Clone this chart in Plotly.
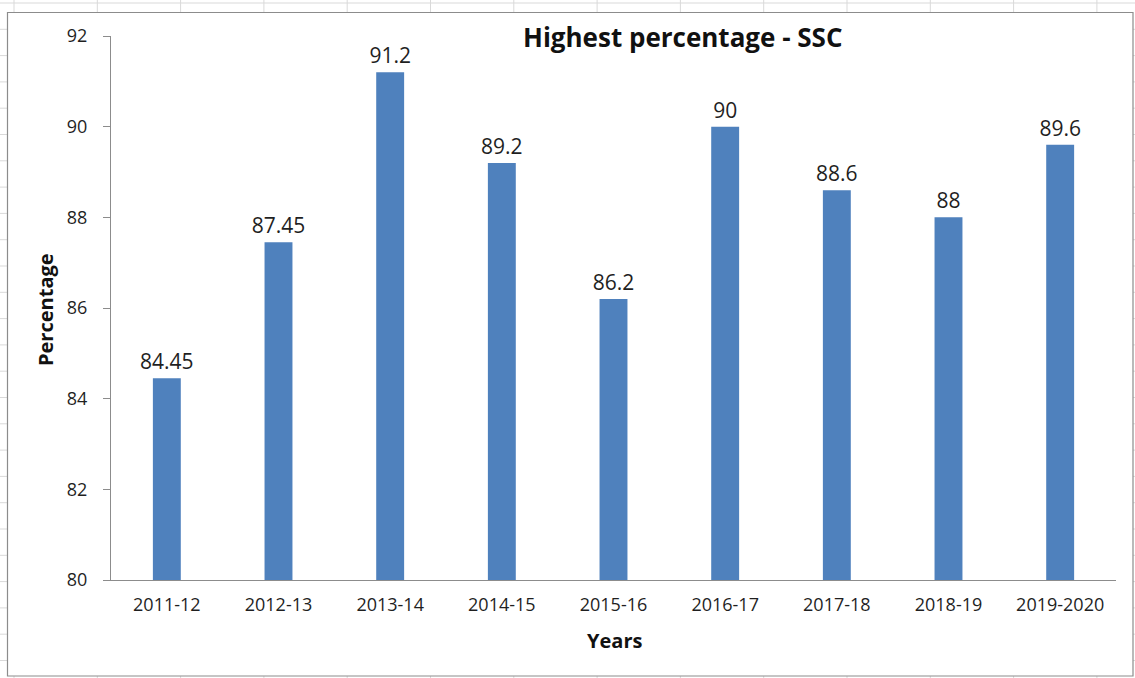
import plotly.graph_objects as go

years = ["2011-12", "2012-13", "2013-14", "2014-15", "2015-16",
         "2016-17", "2017-18", "2018-19", "2019-2020"]
highest = [84.45, 87.45, 91.2, 89.2, 86.2, 90, 88.6, 88, 89.6]
labels = ["84.45", "87.45", "91.2", "89.2", "86.2", "90", "88.6", "88", "89.6"]
y_ticks = [80, 82, 84, 86, 88, 90, 92]

W, H = 1135, 678
ML, MR, MT, MB = 111, 19, 36, 98
PW, PH = W - ML - MR, H - MT - MB


def px(x):
    return (x - ML) / PW


def py(y):
    return (H - MB - y) / PH


FONT = "Open Sans"
BAR = "#4f81bd"
TXT = "#1f1f1f"

fig = go.Figure(go.Bar(
    x=years, y=highest, text=labels, textposition="outside",
    constraintext="none",
    textfont=dict(family=FONT, size=21, color=TXT),
    marker=dict(color=BAR, line=dict(width=0)),
    cliponaxis=False, hoverinfo="x+y",
))

shapes = []
grid = "#d9d9d9"
# spreadsheet grid behind the chart
for i in range(14):
    xv = 14 + 83.3 * i
    shapes.append(dict(type="line", xref="paper", yref="paper",
                       x0=px(xv), x1=px(xv), y0=py(0), y1=py(H),
                       line=dict(color=grid, width=1), layer="below"))
for i in range(27):
    yv = 3 + 26.3 * i
    shapes.append(dict(type="line", xref="paper", yref="paper",
                       x0=px(0), x1=px(W), y0=py(yv), y1=py(yv),
                       line=dict(color=grid, width=1), layer="below"))
# chart frame
shapes.append(dict(type="rect", xref="paper", yref="paper",
                   x0=px(7.5), x1=px(1133), y0=py(12.5), y1=py(676),
                   fillcolor="white", line=dict(color="#8c8c8c", width=1.2),
                   layer="below"))

annotations = [
    dict(text="<b>Highest percentage - SSC</b>", x=px(683), y=py(37),
         xref="paper", yref="paper", showarrow=False,
         font=dict(family=FONT, size=26, color="#111111"),
         xanchor="center", yanchor="middle"),
    dict(text="<b>Percentage</b>", x=px(45), y=py(310),
         xref="paper", yref="paper", showarrow=False, textangle=-90,
         font=dict(family=FONT, size=20, color="#111111"),
         xanchor="center", yanchor="middle"),
    dict(text="<b>Years</b>", x=px(614), y=py(640),
         xref="paper", yref="paper", showarrow=False,
         font=dict(family=FONT, size=20, color="#111111"),
         xanchor="center", yanchor="middle"),
]

fig.update_layout(
    width=W, height=H,
    margin=dict(l=ML, r=MR, t=MT, b=MB, pad=0),
    paper_bgcolor="white", plot_bgcolor="rgba(0,0,0,0)",
    bargap=0.75, showlegend=False,
    shapes=shapes, annotations=annotations,
    font=dict(family=FONT, color=TXT),
)
fig.update_xaxes(
    type="category", showgrid=False, showline=True, linecolor="#8c8c8c",
    linewidth=1.2, ticks="", tickfont=dict(family=FONT, size=18, color=TXT),
    ticklabelstandoff=8, zeroline=False,
)
fig.update_yaxes(
    range=[80, 92], tickvals=y_ticks, showgrid=False, showline=True,
    linecolor="#8c8c8c", linewidth=1.2, ticks="outside", ticklen=7,
    tickcolor="#8c8c8c", tickfont=dict(family=FONT, size=18, color=TXT),
    ticklabelstandoff=12, zeroline=False,
)

fig.write_html(
    "out.html",
    config={"displayModeBar": False},
    post_script="document.body.style.margin='0';document.body.style.overflow='hidden';",
)
